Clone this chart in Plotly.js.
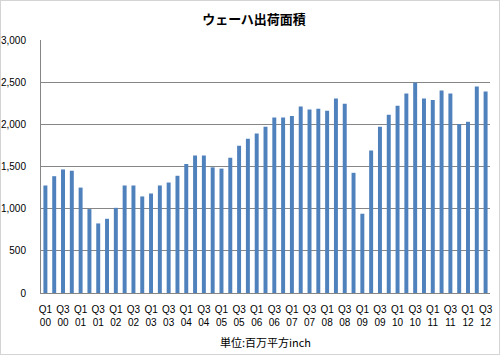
<!DOCTYPE html>
<html><head><meta charset="utf-8">
<script src="https://cdn.plot.ly/plotly-3.0.1.min.js"></script>
<style>
html,body{margin:0;padding:0;background:#fff;}
#chart{width:500px;height:355px;outline:1px solid #d4d4d4;outline-offset:-1px;}
</style></head>
<body><div id="chart"></div>
<script>
const years = ["00","01","02","03","04","05","06","07","08","09","10","11","12"];
const quarters = ["Q1","Q2","Q3","Q4"];
const categories = [];
years.forEach(y => quarters.forEach(q => categories.push(q + " " + y)));
categories.length = 51; // Q1 00 .. Q3 12

const values = [
  1275, 1385, 1465, 1450, 1250, 995, 825, 880,
  1010, 1275, 1275, 1145, 1180, 1275, 1310, 1390,
  1530, 1630, 1630, 1490, 1475, 1605, 1745, 1830,
  1890, 1970, 2080, 2080, 2100, 2210, 2175, 2185,
  2160, 2305, 2245, 1425, 940, 1690, 1970, 2115,
  2220, 2365, 2495, 2305, 2290, 2400, 2365, 2005,
  2030, 2450, 2390
];

const tickVals = categories.filter((c, i) => i % 2 === 0);
const tickText = tickVals.map(c => c.replace(" ", "<br>"));

const trace = {
  type: "bar",
  x: categories,
  y: values,
  marker: {color: "#4f81bd"},
  hoverinfo: "x+y"
};

const layout = {
  width: 500, height: 355,
  margin: {l: 41, r: 10, t: 40, b: 62},
  paper_bgcolor: "rgba(0,0,0,0)",
  plot_bgcolor: "#fff",
  bargap: 0.55,
  showlegend: false,
  title: {
    text: "ウェーハ出荷面積",
    font: {family: "Noto Sans CJK JP", size: 13, color: "#000", weight: "bold"},
    x: 0.508, xref: "container", xanchor: "center",
    y: 0.946, yref: "container", yanchor: "middle"
  },
  xaxis: {
    type: "category",
    tickvals: tickVals,
    ticktext: tickText,
    tickangle: 0,
    ticks: "outside", ticklen: 7, tickcolor: "rgba(0,0,0,0)",
    showline: true, linecolor: "#868686", linewidth: 1,
    showgrid: false,
    tickfont: {family: "Liberation Sans", size: 10, color: "#000"},
    title: {
      text: "単位:百万平方inch",
      font: {family: "Noto Sans CJK JP", size: 11, color: "#000"},
      standoff: 12
    },
    range: [-0.5, 50.5]
  },
  yaxis: {
    range: [0, 3000],
    tickvals: [0, 500, 1000, 1500, 2000, 2500, 3000],
    ticktext: ["0", "500", "1,000", "1,500", "2,000", "2,500", "3,000"],
    ticks: "outside", ticklen: 12, tickcolor: "rgba(0,0,0,0)",
    showline: true, linecolor: "#868686", linewidth: 1,
    showgrid: true, gridcolor: "#868686", gridwidth: 1,
    zeroline: false,
    tickfont: {family: "Liberation Sans", size: 10, color: "#000"}
  }
};

Plotly.newPlot("chart", [trace], layout, {displayModeBar: false, staticPlot: true});
</script>
</body></html>
